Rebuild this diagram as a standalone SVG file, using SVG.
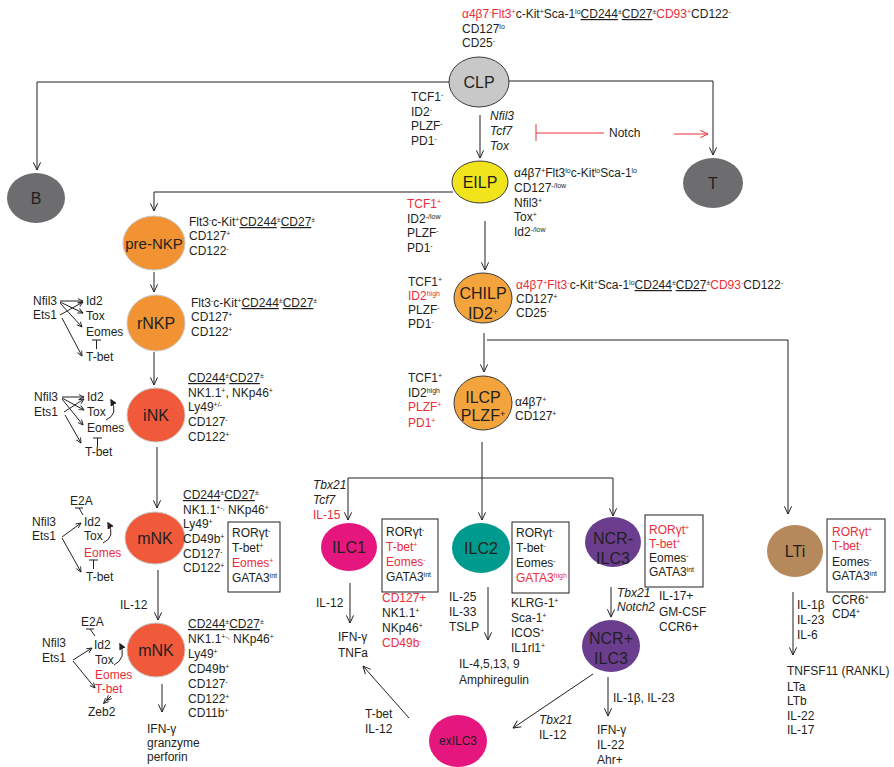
<svg xmlns="http://www.w3.org/2000/svg" width="894" height="767" viewBox="0 0 894 767">
<defs>
<style>
text{font-family:"Liberation Sans",Arial,sans-serif;font-size:12px;fill:#231f20}
.r{fill:#ec2d3a}
.i{font-style:italic}
.u{text-decoration:underline}
.s{font-size:7px;baseline-shift:4px}
.n{font-size:16px;text-anchor:middle}
.ln{fill:none;stroke:#231f20;stroke-width:1}
.rl{fill:none;stroke:#ec2d3a;stroke-width:1}
.box{fill:none;stroke:#231f20;stroke-width:1}
</style>
<marker id="a" viewBox="0 0 10 10" refX="9.5" refY="5" markerWidth="9" markerHeight="9" orient="auto" markerUnits="userSpaceOnUse"><path d="M1,1 L9.5,5 L1,9" fill="none" stroke="#231f20" stroke-width="1.1"/></marker>
<marker id="ar" viewBox="0 0 10 10" refX="9.5" refY="5" markerWidth="9" markerHeight="9" orient="auto" markerUnits="userSpaceOnUse"><path d="M1,1 L9.5,5 L1,9" fill="none" stroke="#ec2d3a" stroke-width="1.1"/></marker>
<marker id="m" viewBox="0 0 10 10" refX="9.5" refY="5" markerWidth="6" markerHeight="6" orient="auto" markerUnits="userSpaceOnUse"><path d="M1,1 L9.5,5 L1,9" fill="none" stroke="#231f20" stroke-width="1.5"/></marker>
<marker id="f" viewBox="0 0 10 10" refX="8" refY="5" markerWidth="7" markerHeight="7" orient="auto" markerUnits="userSpaceOnUse"><path d="M0,0 L10,5 L0,10 z" fill="#231f20"/></marker>
</defs>
<rect width="894" height="767" fill="#fff"/>

<g id="connectors">
<path class="ln" d="M449,82 H37 V170" marker-end="url(#a)"/>
<path class="ln" d="M508,81 H713 V155" marker-end="url(#a)"/>
<path class="ln" d="M480,115 V158" marker-end="url(#a)"/>
<path class="rl" d="M536,124 V141 M536,133 H604"/>
<path class="rl" d="M674,134 H708" marker-end="url(#ar)"/>
<path class="ln" d="M453,192 H154 V211" marker-end="url(#a)"/>
<path class="ln" d="M485,221 V270" marker-end="url(#a)"/>
<path class="ln" d="M154,272 V292" marker-end="url(#a)"/>
<path class="ln" d="M154,352 V385" marker-end="url(#a)"/>
<path class="ln" d="M157,447 V508" marker-end="url(#a)"/>
<path class="ln" d="M158,570 V620" marker-end="url(#a)"/>
<path class="ln" d="M162,684 V712" marker-end="url(#a)"/>
<path class="ln" d="M484,333 V372" marker-end="url(#a)"/>
<path class="ln" d="M487,340 H788 V514" marker-end="url(#a)"/>
<path class="ln" d="M482,442 V520" marker-end="url(#a)"/>
<path class="ln" d="M348,478 H613 V516" marker-end="url(#a)"/>
<path class="ln" d="M348,478 V520" marker-end="url(#a)"/>
<path class="ln" d="M611,587 V617" marker-end="url(#a)"/>
<path class="ln" d="M350,583 V623" marker-end="url(#a)"/>
<path class="ln" d="M488,587 V640" marker-end="url(#a)"/>
<path class="ln" d="M593,674 L513,728" marker-end="url(#a)"/>
<path class="ln" d="M409,718 L363,666" marker-end="url(#a)"/>
<path class="ln" d="M608,677 V716" marker-end="url(#a)"/>
<path class="ln" d="M793,592 V655" marker-end="url(#a)"/>
</g>

<g id="notch-label"><text x="609" y="137">Notch</text></g>

<g id="clp-markers">
<text x="462" y="18"><tspan class="r">α4β7<tspan class="s">-</tspan>Flt3<tspan class="s">+</tspan></tspan>c-Kit<tspan class="s">+</tspan>Sca-1<tspan class="s">lo</tspan><tspan class="u">CD244</tspan><tspan class="s">±</tspan><tspan class="u">CD27</tspan><tspan class="s">±</tspan><tspan class="r">CD93<tspan class="s">+</tspan></tspan>CD122<tspan class="s">-</tspan></text>
<text x="462" y="33">CD127<tspan class="s">lo</tspan></text>
<text x="462" y="47">CD25<tspan class="s">-</tspan></text>
</g>

<g id="CLP">
<ellipse cx="479" cy="82" rx="30" ry="25" fill="#c8c8c8" stroke="#3a3a3a" stroke-width="1"/>
<text class="n" x="479" y="88">CLP</text>
<text x="411" y="101">TCF1<tspan class="s">-</tspan></text>
<text x="411" y="116">ID2<tspan class="s">-</tspan></text>
<text x="411" y="130">PLZF<tspan class="s">-</tspan></text>
<text x="411" y="145">PD1<tspan class="s">-</tspan></text>
<text class="i" x="490" y="120">Nfil3</text>
<text class="i" x="490" y="135">Tcf7</text>
<text class="i" x="490" y="150">Tox</text>
</g>

<g id="B">
<ellipse cx="36" cy="198" rx="29" ry="25" fill="#6d6d6f"/>
<text class="n" x="36" y="204">B</text>
</g>

<g id="T">
<ellipse cx="713" cy="183" rx="30" ry="25" fill="#6d6d6f"/>
<text class="n" x="713" y="189">T</text>
</g>

<g id="EILP">
<ellipse cx="480" cy="182" rx="28" ry="21" fill="#f2e41c" stroke="#3a3a3a" stroke-width="1"/>
<text class="n" x="480" y="188">EILP</text>
<text x="514" y="177">α4β7<tspan class="s">+</tspan>Flt3<tspan class="s">lo</tspan>c-Kit<tspan class="s">lo</tspan>Sca-1<tspan class="s">lo</tspan></text>
<text x="514" y="192">CD127<tspan class="s">-/low</tspan></text>
<text x="514" y="207">Nfil3<tspan class="s">+</tspan></text>
<text x="514" y="221">Tox<tspan class="s">+</tspan></text>
<text x="514" y="236">Id2<tspan class="s">-/low</tspan></text>
<text class="r" x="407" y="208">TCF1<tspan class="s">+</tspan></text>
<text x="407" y="223">ID2<tspan class="s">-/low</tspan></text>
<text x="407" y="237">PLZF<tspan class="s">-</tspan></text>
<text x="407" y="252">PD1<tspan class="s">-</tspan></text>
</g>

<g id="preNKP">
<ellipse cx="154" cy="243" rx="31" ry="27" fill="#f29333" stroke="#c8c8c8" stroke-width="1"/>
<text class="n" x="154" y="249" style="font-size:15px">pre-NKP</text>
<text x="189" y="226">Flt3<tspan class="s">-</tspan>c-Kit<tspan class="s">+</tspan><tspan class="u">CD244</tspan><tspan class="s">±</tspan><tspan class="u">CD27</tspan><tspan class="s">±</tspan></text>
<text x="189" y="240">CD127<tspan class="s">+</tspan></text>
<text x="189" y="255">CD122<tspan class="s">-</tspan></text>
</g>

<g id="rNKP">
<ellipse cx="156" cy="323" rx="29" ry="28" fill="#f29333" stroke="#c8c8c8" stroke-width="1"/>
<text class="n" x="156" y="329">rNKP</text>
<text x="191" y="307">Flt3<tspan class="s">-</tspan>c-Kit<tspan class="s">+</tspan><tspan class="u">CD244</tspan><tspan class="s">±</tspan><tspan class="u">CD27</tspan><tspan class="s">±</tspan></text>
<text x="191" y="321">CD127<tspan class="s">+</tspan></text>
<text x="191" y="336">CD122<tspan class="s">+</tspan></text>
</g>
<g id="rNKP-network">
<text x="33" y="305">Nfil3</text>
<text x="33" y="319">Ets1</text>
<text x="86" y="305">Id2</text>
<text x="86" y="320">Tox</text>
<text x="86" y="336">Eomes</text>
<text x="86" y="361">T-bet</text>
<path class="ln" d="M60,301 L83,301" marker-end="url(#m)"/>
<path class="ln" d="M60,302 L83,313" marker-end="url(#m)"/>
<path class="ln" d="M60,303 L82,327" marker-end="url(#m)"/>
<path class="ln" d="M60,315 L83,302" marker-end="url(#m)"/>
<path class="ln" d="M62,318 L82,356" marker-end="url(#m)"/>
<path class="ln" d="M92,340 H101 M96.5,340 V349"/>
</g>

<g id="iNK">
<ellipse cx="156" cy="415" rx="29" ry="27" fill="#f05a3b" stroke="#c8c8c8" stroke-width="1"/>
<text class="n" x="156" y="421">iNK</text>
<text x="188" y="382"><tspan class="u">CD244</tspan><tspan class="s">±</tspan><tspan class="u">CD27</tspan><tspan class="s">±</tspan></text>
<text x="188" y="397">NK1.1<tspan class="s">+</tspan>, NKp46<tspan class="s">+</tspan></text>
<text x="188" y="411">Ly49<tspan class="s">+/-</tspan></text>
<text x="188" y="426">CD127<tspan class="s">-</tspan></text>
<text x="188" y="441">CD122<tspan class="s">+</tspan></text>
</g>
<g id="iNK-network">
<text x="34" y="401">Nfil3</text>
<text x="34" y="416">Ets1</text>
<text x="87" y="401">Id2</text>
<text x="87" y="416">Tox</text>
<text x="87" y="432">Eomes</text>
<text x="85" y="456">T-bet</text>
<path class="ln" d="M62,397 L84,397" marker-end="url(#m)"/>
<path class="ln" d="M62,398 L84,410" marker-end="url(#m)"/>
<path class="ln" d="M62,399 L83,425" marker-end="url(#m)"/>
<path class="ln" d="M64,412 L84,399" marker-end="url(#m)"/>
<path class="ln" d="M65,415 L81,443" marker-end="url(#m)"/>
<path class="ln" d="M106,420 Q119,414 111,400" marker-end="url(#f)"/>
<path class="ln" d="M93,438 H102 M97.5,438 V447"/>
</g>

<g id="mNK1">
<ellipse cx="155" cy="538" rx="30" ry="26" fill="#f05a3b" stroke="#c8c8c8" stroke-width="1"/>
<text class="n" x="155" y="544">mNK</text>
<text x="183" y="499"><tspan class="u">CD244</tspan><tspan class="s">±</tspan><tspan class="u">CD27</tspan><tspan class="s">±</tspan></text>
<text x="183" y="514">NK1.1<tspan class="s">+-,</tspan> NKp46<tspan class="s">+</tspan></text>
<text x="183" y="528">Ly49<tspan class="s">+</tspan></text>
<text x="183" y="543">CD49b<tspan class="s">+</tspan></text>
<text x="183" y="558">CD127<tspan class="s">-</tspan></text>
<text x="183" y="572">CD122<tspan class="s">+</tspan></text>
<rect class="box" x="228" y="522" width="52" height="70"/>
<text x="232" y="537">RORγt<tspan class="s">-</tspan></text>
<text x="232" y="552">T-bet<tspan class="s">+</tspan></text>
<text class="r" x="232" y="567">Eomes<tspan class="s">+</tspan></text>
<text x="232" y="582">GATA3<tspan class="s">int</tspan></text>
</g>
<g id="mNK1-network">
<text x="70" y="505">E2A</text>
<text x="32" y="526">Nfil3</text>
<text x="32" y="540">Ets1</text>
<text x="84" y="526">Id2</text>
<text x="84" y="540">Tox</text>
<text class="r" x="84" y="557">Eomes</text>
<text x="86" y="581">T-bet</text>
<path class="ln" d="M75,508 H83 M79,508 L83,515"/>
<path class="ln" d="M62,537 L81,523" marker-end="url(#m)"/>
<path class="ln" d="M62,538 L81,572" marker-end="url(#m)"/>
<path class="ln" d="M103,543 Q116,537 108,523" marker-end="url(#f)"/>
<path class="ln" d="M89,560 H98 M93.5,560 V569"/>
<text x="120" y="609">IL-12</text>
</g>

<g id="mNK2">
<ellipse cx="156" cy="650" rx="29" ry="27" fill="#f05a3b" stroke="#c8c8c8" stroke-width="1"/>
<text class="n" x="156" y="656">mNK</text>
<text x="188" y="628"><tspan class="u">CD244</tspan><tspan class="s">±</tspan><tspan class="u">CD27</tspan><tspan class="s">±</tspan></text>
<text x="188" y="643">NK1.1<tspan class="s">+-,</tspan> NKp46<tspan class="s">+</tspan></text>
<text x="188" y="658">Ly49<tspan class="s">+</tspan></text>
<text x="188" y="673">CD49b<tspan class="s">+</tspan></text>
<text x="188" y="688">CD127<tspan class="s">-</tspan></text>
<text x="188" y="703">CD122<tspan class="s">+</tspan></text>
<text x="188" y="717">CD11b<tspan class="s">+</tspan></text>
<text x="147" y="733">IFN-γ</text>
<text x="147" y="747">granzyme</text>
<text x="147" y="761">perforin</text>
</g>
<g id="mNK2-network">
<text x="81" y="626">E2A</text>
<text x="42" y="647">Nfil3</text>
<text x="42" y="662">Ets1</text>
<text x="94" y="649">Id2</text>
<text x="95" y="664">Tox</text>
<text class="r" x="95" y="679">Eomes</text>
<text class="r" x="95" y="693">T-bet</text>
<text x="88" y="716">Zeb2</text>
<path class="ln" d="M86,629 H94 M90,629 L95,636"/>
<path class="ln" d="M73,660 L92,648" marker-end="url(#m)"/>
<path class="ln" d="M73,661 L95,688" marker-end="url(#m)"/>
<path class="ln" d="M114,665 Q127,658 120,644" marker-end="url(#f)"/>
<path class="ln" d="M111,696 L106.5,700.5" marker-end="url(#m)"/>
<path class="ln" d="M111,696 L103.5,703.5" marker-end="url(#m)"/>
</g>

<g id="CHILP">
<ellipse cx="483" cy="298" rx="29" ry="25" fill="#f3a43c" stroke="#3a3a3a" stroke-width="1"/>
<text class="n" x="483" y="299">CHILP</text>
<text class="n" x="483" y="319">ID2<tspan class="s" style="font-size:9px">+</tspan></text>
<text x="408" y="286">TCF1<tspan class="s">+</tspan></text>
<text class="r" x="408" y="300">ID2<tspan class="s">high</tspan></text>
<text x="408" y="314">PLZF<tspan class="s">-</tspan></text>
<text x="408" y="328">PD1<tspan class="s">-</tspan></text>
<text x="516" y="289"><tspan class="r">α4β7<tspan class="s">+</tspan>Flt3<tspan class="s">-</tspan></tspan>c-Kit<tspan class="s">+</tspan>Sca-1<tspan class="s">lo</tspan><tspan class="u">CD244</tspan><tspan class="s">±</tspan><tspan class="u">CD27</tspan><tspan class="s">±</tspan><tspan class="r">CD93<tspan class="s">-</tspan></tspan>CD122<tspan class="s">-</tspan></text>
<text x="516" y="303">CD127<tspan class="s">+</tspan></text>
<text x="516" y="317">CD25<tspan class="s">-</tspan></text>
</g>

<g id="ILCP">
<ellipse cx="483" cy="403" rx="29" ry="27" fill="#f3a43c" stroke="#3a3a3a" stroke-width="1"/>
<text class="n" x="483" y="403">ILCP</text>
<text class="n" x="483" y="421">PLZF<tspan class="s" style="font-size:9px">+</tspan></text>
<text x="408" y="382">TCF1<tspan class="s">+</tspan></text>
<text x="408" y="397">ID2<tspan class="s">high</tspan></text>
<text class="r" x="408" y="411">PLZF<tspan class="s">+</tspan></text>
<text class="r" x="408" y="427">PD1<tspan class="s">+</tspan></text>
<text x="515" y="406">α4β7<tspan class="s">+</tspan></text>
<text x="515" y="420">CD127<tspan class="s">+</tspan></text>
</g>

<g id="ILC1">
<ellipse cx="349" cy="547" rx="28" ry="24" fill="#e5177e"/>
<text class="n" x="349" y="553">ILC1</text>
<text class="i" x="313" y="489">Tbx21</text>
<text class="i" x="313" y="504">Tcf7</text>
<text class="r" x="313" y="519">IL-15</text>
<rect class="box" x="382" y="519" width="56" height="73"/>
<text x="386" y="536">RORγt<tspan class="s">-</tspan></text>
<text class="r" x="386" y="551">T-bet<tspan class="s">+</tspan></text>
<text class="r" x="386" y="566">Eomes<tspan class="s">-</tspan></text>
<text x="386" y="581">GATA3<tspan class="s">int</tspan></text>
<text class="r" x="382" y="602">CD127+</text>
<text x="382" y="617">NK1.1<tspan class="s">+</tspan></text>
<text x="382" y="632">NKp46<tspan class="s">+</tspan></text>
<text class="r" x="382" y="647">CD49b<tspan class="s">-</tspan></text>
<text x="316" y="607">IL-12</text>
<text x="338" y="641">IFN-γ</text>
<text x="338" y="657">TNFa</text>
</g>

<g id="ILC2">
<ellipse cx="481" cy="548" rx="29" ry="25" fill="#009b8e"/>
<text class="n" x="481" y="554">ILC2</text>
<rect class="box" x="512" y="522" width="57" height="71"/>
<text x="516" y="537">RORγt<tspan class="s">-</tspan></text>
<text x="516" y="552">T-bet<tspan class="s">-</tspan></text>
<text x="516" y="567">Eomes<tspan class="s">-</tspan></text>
<text class="r" x="516" y="582">GATA3<tspan class="s">high</tspan></text>
<text x="449" y="601">IL-25</text>
<text x="449" y="616">IL-33</text>
<text x="449" y="631">TSLP</text>
<text x="511" y="607">KLRG-1<tspan class="s">+</tspan></text>
<text x="511" y="622">Sca-1<tspan class="s">+</tspan></text>
<text x="511" y="637">ICOS<tspan class="s">+</tspan></text>
<text x="511" y="652">IL1rl1<tspan class="s">+</tspan></text>
<text x="459" y="668">IL-4,5,13, 9</text>
<text x="459" y="684">Amphiregulin</text>
</g>

<g id="NCRneg-ILC3">
<ellipse cx="613" cy="542" rx="28" ry="25" fill="#6b3d8f"/>
<text class="n" x="613" y="544">NCR-</text>
<text class="n" x="613" y="564">ILC3</text>
<rect class="box" x="645" y="515" width="58" height="72"/>
<text class="r" x="649" y="534">RORγt<tspan class="s">+</tspan></text>
<text class="r" x="649" y="548">T-bet<tspan class="s">+</tspan></text>
<text x="649" y="562">Eomes<tspan class="s">-</tspan></text>
<text x="649" y="576">GATA3<tspan class="s">int</tspan></text>
<text class="i" x="617" y="597">Tbx21</text>
<text class="i" x="617" y="611">Notch2</text>
<text x="659" y="600">IL-17+</text>
<text x="659" y="616">GM-CSF</text>
<text x="659" y="631">CCR6+</text>
</g>

<g id="NCRpos-ILC3">
<ellipse cx="611" cy="646" rx="29" ry="26" fill="#6b3d8f"/>
<text class="n" x="611" y="644">NCR+</text>
<text class="n" x="611" y="664">ILC3</text>
<text x="613" y="702">IL-1β, IL-23</text>
<text x="597" y="734">IFN-γ</text>
<text x="597" y="749">IL-22</text>
<text x="597" y="764">Ahr+</text>
<text class="i" x="539" y="724">Tbx21</text>
<text x="539" y="739">IL-12</text>
</g>

<g id="exILC3">
<ellipse cx="458" cy="741" rx="29" ry="26" fill="#e5177e"/>
<text class="n" x="458" y="745" style="font-size:12px">exILC3</text>
<text x="365" y="718">T-bet</text>
<text x="365" y="733">IL-12</text>
</g>

<g id="LTi">
<ellipse cx="795" cy="551" rx="28" ry="26" fill="#b5895b"/>
<text class="n" x="795" y="557">LTi</text>
<rect class="box" x="827" y="519" width="58" height="73"/>
<text class="r" x="832" y="536">RORγt<tspan class="s">+</tspan></text>
<text class="r" x="832" y="550">T-bet<tspan class="s">-</tspan></text>
<text x="832" y="566">Eomes<tspan class="s">-</tspan></text>
<text x="832" y="580">GATA3<tspan class="s">int</tspan></text>
<text x="797" y="609">IL-1β</text>
<text x="797" y="624">IL-23</text>
<text x="797" y="639">IL-6</text>
<text x="832" y="604">CCR6<tspan class="s">+</tspan></text>
<text x="832" y="618">CD4<tspan class="s">+</tspan></text>
<text x="787" y="675">TNFSF11 (RANKL)</text>
<text x="787" y="691">LTa</text>
<text x="787" y="705">LTb</text>
<text x="787" y="720">IL-22</text>
<text x="787" y="734">IL-17</text>
</g>
</svg>
